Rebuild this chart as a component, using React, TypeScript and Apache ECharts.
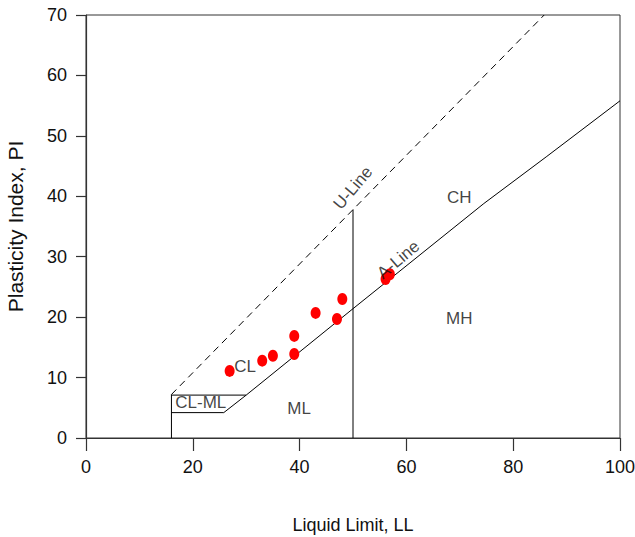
import React, { useEffect, useRef } from "react";
import * as echarts from "echarts";

// Observed soil samples
const liquidLimit = [26.9, 33.0, 35.0, 39.0, 39.0, 43.0, 47.0, 48.0, 56.1, 56.9];
const plasticityIndex = [11.1, 12.8, 13.6, 16.9, 13.9, 20.7, 19.7, 23.0, 26.3, 27.1];

// Chart reference lines
const uLine = [[16, 7.2], [85.8, 70]];
const aLine = [[25.8, 4.2], [30, 7.1], [50, 21.4], [74.5, 38.8], [86.3, 46.6], [100, 55.8]];
const llFiftyLine = [[50, 0], [50, 37.8]];
const llSixteenLine = [[16, 0], [16, 7.2]];
const piFourLine = [[16, 4.2], [25.8, 4.2]];
const piSevenLine = [[16, 7.1], [30, 7.1]];

// Zone labels
const zoneNames = ["CL", "CL-ML", "ML", "CH", "MH", "U-Line", "A-Line"];
const zoneLL = [29.8, 21.5, 39.9, 69.9, 69.9, 50.0, 58.5];
const zonePI = [11.9, 5.9, 4.9, 39.8, 19.7, 41.4, 29.5];
const zoneRotate = [0, 0, 0, 0, 0, 50, 40];

const xTicks = [0, 20, 40, 60, 80, 100];
const yTicks = [0, 10, 20, 30, 40, 50, 60, 70];

const FONT = '"Liberation Sans", Arial, sans-serif';
const TEXT = "#111";

export default function App() {
  const ref = useRef<HTMLDivElement>(null);
  useEffect(() => {
    if (!ref.current) return;
    const chart = echarts.init(ref.current, null, { renderer: "svg" });
    const lineSeries = (data: number[][], dashed = false) => ({
      type: "line",
      data,
      showSymbol: false,
      symbol: "none",
      silent: true,
      lineStyle: { color: "#000", width: 1, type: dashed ? [7, 5] : "solid" },
      z: 2,
    });
    chart.setOption({
      animation: false,
      grid: {
        left: 86,
        right: 15,
        top: 15,
        bottom: 99,
        outerBoundsMode: "none",
        containLabel: false,
        show: true,
        borderColor: "#333",
        borderWidth: 1,
        backgroundColor: "transparent",
      },
      xAxis: {
        type: "value",
        min: xTicks[0],
        max: xTicks[xTicks.length - 1],
        interval: 20,
        name: "Liquid Limit, LL",
        nameLocation: "middle",
        nameGap: 78,
        nameTextStyle: { fontFamily: FONT, fontSize: 18, color: TEXT },
        axisLine: { show: true, onZero: false, lineStyle: { color: "#333", width: 1.2 } },
        axisTick: { show: true, inside: false, length: 13, lineStyle: { color: "#333", width: 1.2 } },
        axisLabel: { fontFamily: FONT, fontSize: 18, color: TEXT, margin: 20 },
        splitLine: { show: false },
      },
      yAxis: {
        type: "value",
        min: yTicks[0],
        max: yTicks[yTicks.length - 1],
        interval: 10,
        name: "Plasticity Index, PI",
        nameLocation: "middle",
        nameGap: 60,
        nameTextStyle: { fontFamily: FONT, fontSize: 21, color: TEXT },
        axisLine: { show: true, onZero: false, lineStyle: { color: "#333", width: 1.2 } },
        axisTick: { show: true, inside: false, length: 10, lineStyle: { color: "#333", width: 1.2 } },
        axisLabel: { fontFamily: FONT, fontSize: 18, color: TEXT, margin: 19 },
        splitLine: { show: false },
      },
      series: [
        lineSeries(uLine, true),
        lineSeries(aLine),
        lineSeries(llFiftyLine),
        lineSeries(llSixteenLine),
        lineSeries(piFourLine),
        lineSeries(piSevenLine),
        {
          type: "scatter",
          data: liquidLimit.map((x, i) => [x, plasticityIndex[i]]),
          symbol: "circle",
          symbolSize: [10, 12],
          itemStyle: { color: "#ff0000", opacity: 1 },
          z: 4,
        },
        {
          type: "scatter",
          symbolSize: 0,
          silent: true,
          z: 5,
          data: zoneNames.map((n, i) => ({
            name: n,
            value: [zoneLL[i], zonePI[i]],
            label: { rotate: zoneRotate[i] },
          })),
          label: {
            show: true,
            position: "inside",
            formatter: (p: any) => p.name,
            fontFamily: FONT,
            fontSize: 17,
            color: TEXT,
            align: "center",
            verticalAlign: "middle",
          },
        },
      ],
    });
    return () => chart.dispose();
  }, []);
  return (
    <div
      ref={ref}
      style={{ position: "absolute", left: 0, top: 0, width: 635, height: 537 }}
    />
  );
}
